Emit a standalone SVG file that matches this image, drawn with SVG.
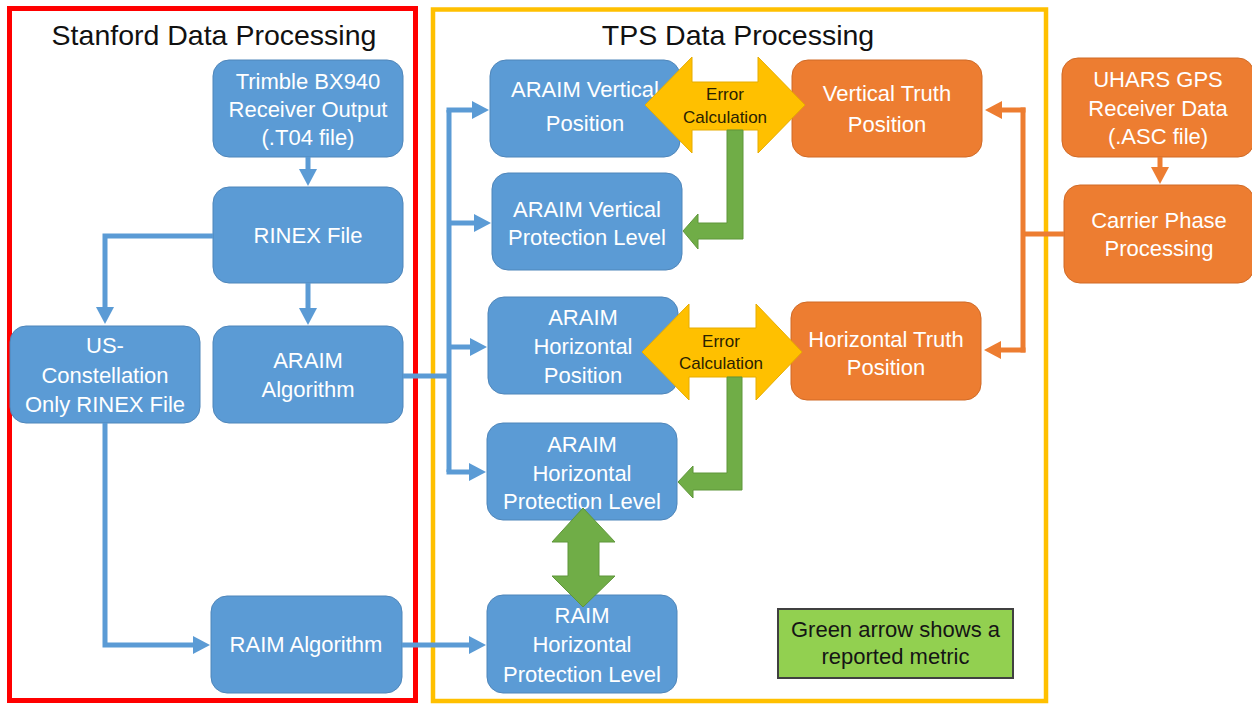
<svg xmlns="http://www.w3.org/2000/svg" width="1252" height="704" viewBox="0 0 1252 704">
<defs>
<style>
.frame{fill:none}
.title{font-family:"Liberation Sans",Arial,sans-serif;font-size:28.5px;fill:#111;text-anchor:middle}
.blue{fill:#5B9BD5;stroke:#4f86ba;stroke-width:1}
.orange{fill:#ED7D31;stroke:#d06a26;stroke-width:1}
.nt{font-family:"Liberation Sans",Arial,sans-serif;font-size:22px;fill:#fff;text-anchor:middle}
.et{font-family:"Liberation Sans",Arial,sans-serif;font-size:17px;fill:#2a2200;text-anchor:middle}
.lt{font-family:"Liberation Sans",Arial,sans-serif;font-size:22px;fill:#151515;text-anchor:middle}
.bl{fill:none;stroke:#5B9BD5;stroke-width:5}
.ol{fill:none;stroke:#ED7D31;stroke-width:5}
.yel{fill:#FFC000;stroke:#e6ac00;stroke-width:1}
.grn{fill:#70AD47;stroke:#5f963a;stroke-width:1}
</style>
<marker id="ab" markerUnits="userSpaceOnUse" viewBox="0 0 17 18" markerWidth="17" markerHeight="18" refX="2" refY="9" orient="auto">
<path d="M0,0 L17,9 L0,18 z" fill="#5B9BD5"/>
</marker>
<marker id="ao" markerUnits="userSpaceOnUse" viewBox="0 0 17 18" markerWidth="17" markerHeight="18" refX="2" refY="9" orient="auto">
<path d="M0,0 L17,9 L0,18 z" fill="#ED7D31"/>
</marker>
</defs>
<rect width="1252" height="704" fill="#fff"/>

<g id="stanford-frame">
<rect class="frame" x="9.5" y="8.5" width="406" height="692" stroke="#FF0000" stroke-width="5"/>
<text class="title" x="214" y="45">Stanford Data Processing</text>
</g>
<g id="tps-frame">
<rect class="frame" x="433" y="9.5" width="613" height="691.5" stroke="#FFC000" stroke-width="4.5"/>
<text class="title" x="738" y="45">TPS Data Processing</text>
</g>

<g id="trimble">
<rect class="blue" x="213" y="60" width="190" height="97" rx="16"/>
<text class="nt" x="308" y="89">Trimble BX940</text>
<text class="nt" x="308" y="117">Receiver Output</text>
<text class="nt" x="308" y="145">(.T04 file)</text>
</g>
<g id="rinex">
<rect class="blue" x="213" y="187" width="190" height="96" rx="16"/>
<text class="nt" x="308" y="243">RINEX File</text>
</g>
<g id="us-rinex">
<rect class="blue" x="10" y="326" width="190" height="97" rx="16"/>
<text class="nt" x="105" y="353">US-</text>
<text class="nt" x="105" y="383">Constellation</text>
<text class="nt" x="105" y="412">Only RINEX File</text>
</g>
<g id="araim-alg">
<rect class="blue" x="213" y="326" width="190" height="97" rx="16"/>
<text class="nt" x="308" y="368">ARAIM</text>
<text class="nt" x="308" y="397">Algorithm</text>
</g>
<g id="raim-alg">
<rect class="blue" x="211" y="596" width="191" height="97" rx="16"/>
<text class="nt" x="306" y="652">RAIM Algorithm</text>
</g>

<g id="araim-vpos">
<rect class="blue" x="490" y="60" width="190" height="97" rx="16"/>
<text class="nt" x="585" y="97">ARAIM Vertical</text>
<text class="nt" x="585" y="131">Position</text>
</g>
<g id="araim-vpl">
<rect class="blue" x="492" y="173" width="190" height="97" rx="16"/>
<text class="nt" x="587" y="217">ARAIM Vertical</text>
<text class="nt" x="587" y="245">Protection Level</text>
</g>
<g id="araim-hpos">
<rect class="blue" x="488" y="297" width="190" height="97" rx="16"/>
<text class="nt" x="583" y="325">ARAIM</text>
<text class="nt" x="583" y="354">Horizontal</text>
<text class="nt" x="583" y="383">Position</text>
</g>
<g id="araim-hpl">
<rect class="blue" x="487" y="423" width="190" height="97" rx="16"/>
<text class="nt" x="582" y="452">ARAIM</text>
<text class="nt" x="582" y="481">Horizontal</text>
<text class="nt" x="582" y="509">Protection Level</text>
</g>
<g id="raim-hpl">
<rect class="blue" x="487" y="595" width="190" height="98" rx="16"/>
<text class="nt" x="582" y="623">RAIM</text>
<text class="nt" x="582" y="652">Horizontal</text>
<text class="nt" x="582" y="682">Protection Level</text>
</g>

<g id="vtruth">
<rect class="orange" x="792" y="60" width="190" height="97" rx="16"/>
<text class="nt" x="887" y="101">Vertical Truth</text>
<text class="nt" x="887" y="132">Position</text>
</g>
<g id="htruth">
<rect class="orange" x="791" y="302" width="190" height="98" rx="16"/>
<text class="nt" x="886" y="347">Horizontal Truth</text>
<text class="nt" x="886" y="375">Position</text>
</g>
<g id="uhars">
<rect class="orange" x="1062" y="58" width="192" height="99" rx="16"/>
<text class="nt" x="1158" y="87">UHARS GPS</text>
<text class="nt" x="1158" y="116">Receiver Data</text>
<text class="nt" x="1158" y="144">(.ASC file)</text>
</g>
<g id="carrier">
<rect class="orange" x="1064" y="185" width="190" height="98" rx="16"/>
<text class="nt" x="1159" y="228">Carrier Phase</text>
<text class="nt" x="1159" y="256">Processing</text>
</g>

<g id="connectors">
<path class="bl" d="M308,157 V171" marker-end="url(#ab)"/>
<path class="bl" d="M308,283 V310" marker-end="url(#ab)"/>
<path class="bl" d="M213,236 H105 V309" marker-end="url(#ab)"/>
<path class="bl" d="M105,423 V645 H195" marker-end="url(#ab)"/>
<path class="bl" d="M403,376 H449"/>
<path class="bl" d="M449,110 V472"/>
<path class="bl" d="M446.5,110 H474" marker-end="url(#ab)"/>
<path class="bl" d="M449,223 H476" marker-end="url(#ab)"/>
<path class="bl" d="M449,347 H472" marker-end="url(#ab)"/>
<path class="bl" d="M446.5,472 H471" marker-end="url(#ab)"/>
<path class="bl" d="M402,645 H471" marker-end="url(#ab)"/>
<path class="ol" d="M1160,157 V169" marker-end="url(#ao)"/>
<path class="ol" d="M1064,234 H1023"/>
<path class="ol" d="M1023,107.5 V352.5"/>
<path class="ol" d="M1025.5,110 H1000" marker-end="url(#ao)"/>
<path class="ol" d="M1025.5,350 H999" marker-end="url(#ao)"/>
</g>

<g id="error-calc-vertical">
<polygon class="yel" points="645,105 692,57 692,82 758,82 758,57 805,105 758,153 758,130 692,130 692,153"/>
<text class="et" x="725" y="100">Error</text>
<text class="et" x="725" y="123">Calculation</text>
</g>
<g id="error-calc-horizontal">
<polygon class="yel" points="642,352 689,304 689,328 756,328 756,304 802,352 756,400 756,377 689,377 689,400"/>
<text class="et" x="721" y="347">Error</text>
<text class="et" x="721" y="369">Calculation</text>
</g>

<g id="metric-arrows">
<polygon class="grn" points="727,130 743,130 743,239 698,239 698,249 683,231 698,214 698,223 727,223"/>
<polygon class="grn" points="727,377 742,377 742,490 693,490 693,498 678,482 693,466 693,473 727,473"/>
<polygon class="grn" points="583,508 615,542 599,542 599,576 615,576 583,607 552,576 568,576 568,542 552,542"/>
</g>

<g id="legend">
<rect x="778" y="609" width="235" height="69" fill="#92D050" stroke="#404040" stroke-width="2"/>
<text class="lt" x="895.5" y="637">Green arrow shows a</text>
<text class="lt" x="895.5" y="664">reported metric</text>
</g>
</svg>
